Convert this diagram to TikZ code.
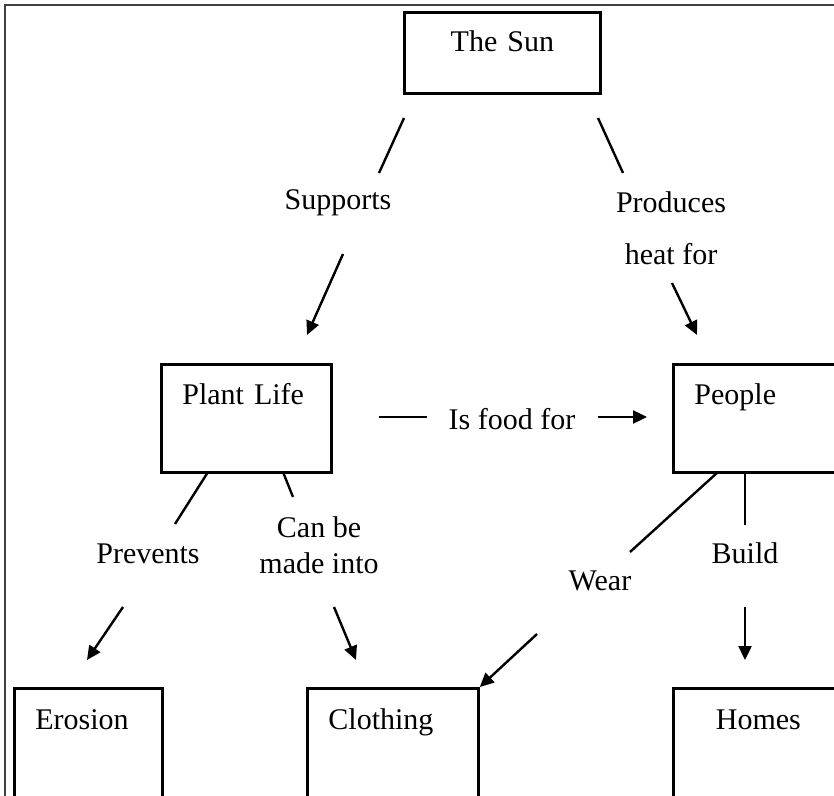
\documentclass[tikz,border=0pt]{standalone}
\usepackage{fontspec}
\setmainfont{Liberation Serif}
\usetikzlibrary{arrows.meta}
\begin{document}
\begin{tikzpicture}[
    x=0.5pt, y=-0.5pt,
    font=\fontsize{15}{18}\selectfont,
    box/.style={draw, line width=1.4pt, inner xsep=10.5pt, inner ysep=0pt, text width=#1, align=left, text height=20pt, text depth=34pt, anchor=north west},
    box/.default=64pt,
    low/.style={text height=20.5pt, text depth=36pt},
    note/.style={inner sep=0pt, align=center, anchor=base},
    link/.style={line width=1.2pt},
    arrow/.style={link, -{Triangle[length=7pt, width=6.5pt]}}
]
    \useasboundingbox (0,0) rectangle (834,796);
    \fill[white] (0,0) rectangle (834,796);
    \clip (0,0) rectangle (834,796);
    \draw[black!75, line width=0.8pt] (5,800) -- (5,5) -- (840,5);

    % boxes
    \node[box=77pt, align=center, text height=19.5pt, text depth=21pt] (sun) at (403,11) {The Sun};
    \node[box] (plant) at (160,363) {Plant Life};
    \node[box] (people) at (672,363) {People};
    \node[box=53pt, low] (erosion) at (13,687) {Erosion};
    \node[box=64.5pt, low] (clothing) at (306,687) {Clothing};
    \node[box, low, align=center] (homes) at (672,687) {Homes};

    % link texts
    \node[note] (supports) at (338,210) {Supports};
    \node[note] (produces) at (671,265) {Produces\\[8pt]heat for};
    \node[note] (isfood) at (512,429) {Is food for};
    \node[note] (prevents) at (148,563) {Prevents};
    \node[note] (canbe) at (319,573) {Can be\\made into};
    \node[note] (wear) at (600,590) {Wear};
    \node[note] (build) at (745,563) {Build};

    % line ends
    \coordinate (sun-sup) at (404,118);
    \coordinate (sup-top) at (379,173);
    \coordinate (sup-bot) at (343,254);
    \coordinate (plant-in) at (307,335);
    \coordinate (sun-pro) at (598,118);
    \coordinate (pro-top) at (623,173);
    \coordinate (pro-bot) at (672,283);
    \coordinate (people-in) at (697,335);
    \coordinate (food-l1) at (379,417);
    \coordinate (food-l2) at (427,417);
    \coordinate (food-r1) at (598,417);
    \coordinate (food-r2) at (647,417);
    \coordinate (plant-pre) at (208,472);
    \coordinate (pre-top) at (175,524);
    \coordinate (pre-bot) at (123,607);
    \coordinate (erosion-in) at (87,660);
    \coordinate (plant-can) at (283,472);
    \coordinate (can-top) at (293,497);
    \coordinate (can-bot) at (334,607);
    \coordinate (clothing-in) at (356,660);
    \coordinate (people-wear) at (718,472);
    \coordinate (wear-top) at (630,552);
    \coordinate (wear-bot) at (537,634);
    \coordinate (build-top) at (745,525);
    \coordinate (build-bot) at (745,607);
    \coordinate (homes-in) at (745,660);

    \draw[link] (sun-sup) -- (sup-top);
    \draw[arrow] (sup-bot) -- (plant-in);
    \draw[link] (sun-pro) -- (pro-top);
    \draw[arrow] (pro-bot) -- (people-in);
    \draw[link] (food-l1) -- (food-l2);
    \draw[arrow] (food-r1) -- (food-r2);
    \draw[link] (plant-pre) -- (pre-top);
    \draw[arrow] (pre-bot) -- (erosion-in);
    \draw[link] (plant-can) -- (can-top);
    \draw[arrow] (can-bot) -- (clothing-in);
    \draw[link] (people-wear) -- (wear-top);
    \draw[arrow] (wear-bot) -- (clothing.north east);
    \draw[link] (people.south -| homes-in) -- (build-top);
    \draw[arrow] (build-bot) -- (homes-in);
\end{tikzpicture}
\end{document}
